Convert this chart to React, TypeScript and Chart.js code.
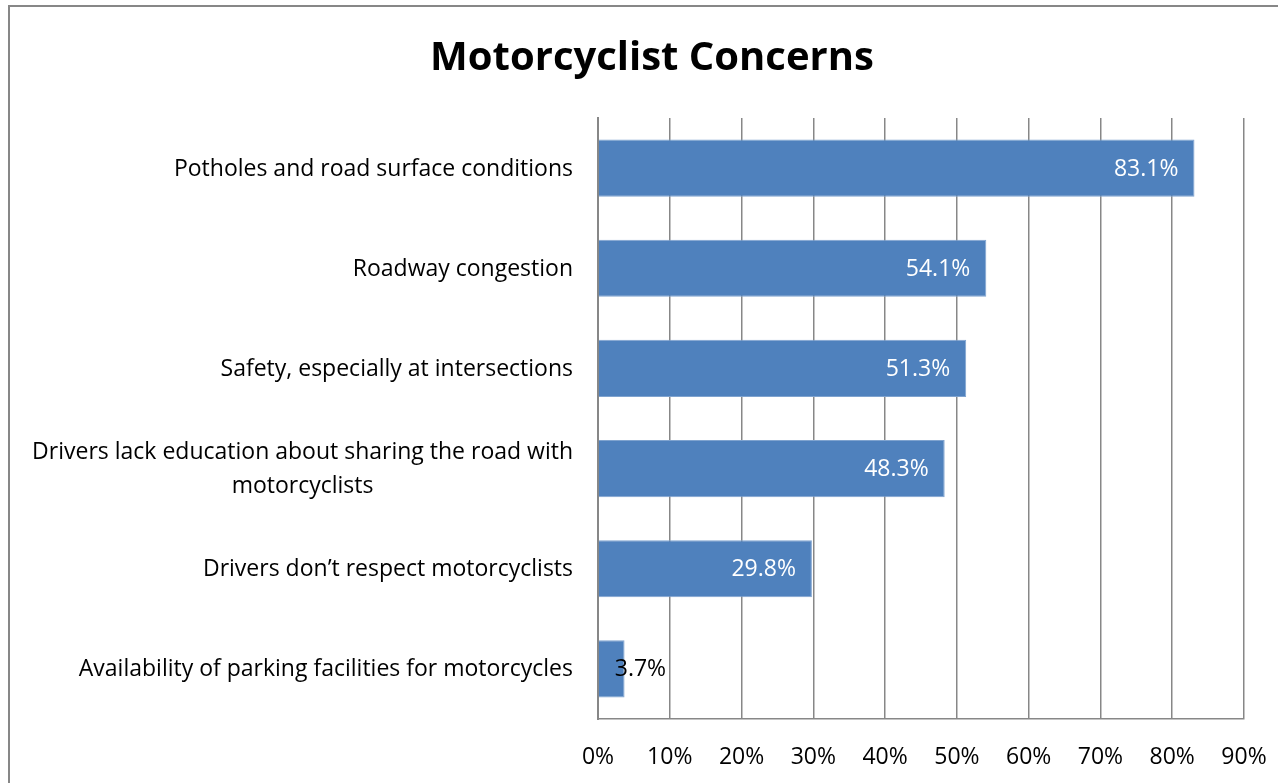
import React, { useEffect, useRef } from 'react';
import { Chart, registerables } from 'chart.js';

Chart.register(...registerables);

const chartTitle = 'Motorcyclist Concerns';
const categories: string[][] = [
  ['Potholes and road surface conditions'],
  ['Roadway congestion'],
  ['Safety, especially at intersections'],
  ['Drivers lack education about sharing the road with', 'motorcyclists'],
  ['Drivers don\u2019t respect motorcyclists'],
  ['Availability of parking facilities for motorcycles'],
];
const values = [83.1, 54.1, 51.3, 48.3, 29.8, 3.7];
const valueLabels = ['83.1%', '54.1%', '51.3%', '48.3%', '29.8%', '3.7%'];
const axisMax = 90;
const axisStep = 10;

const FONT = '"Open Sans", sans-serif';
const GRID = '#878787';
const TXT = 23;

const decorPlugin = {
  id: 'decor',
  afterDraw(chart: any) {
    const ctx = chart.ctx;
    const area = chart.chartArea;
    ctx.save();
    // outer frame
    ctx.strokeStyle = GRID;
    ctx.lineWidth = 2;
    ctx.strokeRect(9, 6, 1400, 1000);
    // title
    ctx.fillStyle = '#000';
    ctx.font = `bold 40px ${FONT}`;
    ctx.textAlign = 'center';
    ctx.textBaseline = 'middle';
    ctx.fillText(chartTitle, 652, 59);
    // category labels
    const yScale = chart.scales.y;
    ctx.font = `${TXT}px ${FONT}`;
    const rightX = area.left - 25;
    categories.forEach((lines, i) => {
      const cy = yScale.getPixelForValue(i) + 1;
      const lh = 34;
      if (lines.length === 1) {
        ctx.textAlign = 'right';
        ctx.fillText(lines[0], rightX, cy);
      } else {
        const widest = Math.max(...lines.map((l) => ctx.measureText(l).width));
        const cx = rightX - widest / 2;
        ctx.textAlign = 'center';
        lines.forEach((l, k) => {
          ctx.fillText(l, cx, cy + (k - (lines.length - 1) / 2) * lh);
        });
      }
    });
    // value labels
    const meta = chart.getDatasetMeta(0);
    ctx.font = `${TXT}px ${FONT}`;
    meta.data.forEach((el: any, i: number) => {
      const txt = valueLabels[i];
      const w = ctx.measureText(txt).width;
      const barW = el.x - el.base;
      if (w + 30 < barW) {
        ctx.fillStyle = '#fff';
        ctx.textAlign = 'right';
        ctx.fillText(txt, el.x - 16, el.y + 1);
      } else {
        ctx.fillStyle = '#000';
        ctx.textAlign = 'left';
        ctx.fillText(txt, el.base + 16, el.y + 1);
      }
    });
    ctx.restore();
  },
};

export default function App() {
  const ref = useRef<HTMLCanvasElement>(null);
  useEffect(() => {
    document.body.style.margin = '0';
    const chart = new Chart(ref.current!, {
      type: 'bar',
      data: {
        labels: categories,
        datasets: [
          {
            data: values,
            backgroundColor: '#4F81BD',
            borderColor: '#7FA3CF',
            borderWidth: 1,
            barPercentage: 0.57,
            categoryPercentage: 1,
          },
        ],
      },
      options: {
        indexAxis: 'y',
        responsive: false,
        animation: false,
        layout: { padding: { top: 118, right: 34, left: 0, bottom: 0 } },
        plugins: { legend: { display: false }, tooltip: { enabled: false }, title: { display: false } },
        scales: {
          x: {
            min: 0,
            max: axisMax,
            ticks: {
              stepSize: axisStep,
              callback: (v: any) => `${v}%`,
              color: '#000',
              font: { family: FONT, size: TXT },
              padding: 25,
              maxRotation: 0,
            },
            grid: { color: GRID, lineWidth: 1.5, drawTicks: false },
            border: { display: true, color: GRID, width: 1.5 },
            afterFit: (s: any) => {
              s.height = 64;
              s.paddingLeft = 0;
              s.paddingRight = 0;
            },
          },
          y: {
            ticks: { display: false },
            grid: { display: false, drawTicks: false },
            border: { display: true, color: GRID, width: 2 },
            afterFit: (s: any) => {
              s.width = 598;
            },
          },
        },
      },
      plugins: [decorPlugin],
    });
    return () => chart.destroy();
  }, []);
  return (
    <div style={{ width: 1278, height: 783, background: '#fff' }}>
      <canvas ref={ref} width={1278} height={783} style={{ display: 'block' }} />
    </div>
  );
}
